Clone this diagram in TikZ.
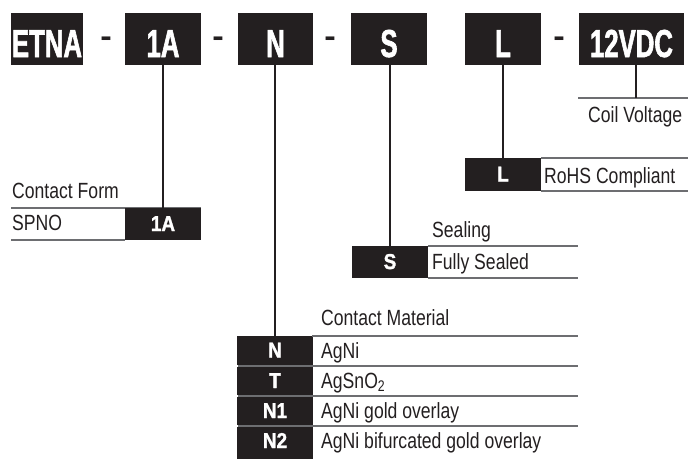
\documentclass[tikz,border=0pt]{standalone}
\usepackage{fontspec}
\setmainfont{Liberation Sans}[FakeStretch=0.80]
\newfontfamily\hdfont{Liberation Sans}[FakeStretch=0.66, BoldFeatures={FakeBold=1.5}]
\newfontfamily\bxfont{Liberation Sans}[FakeStretch=0.88, BoldFeatures={FakeBold=1.5}]
\newfontfamily\dashfont{Liberation Sans}[FakeStretch=1.15]
\definecolor{ink}{HTML}{231F20}
\definecolor{rulec}{HTML}{6D6E71}
\tikzset{
  topbox/.style={fill=ink, text=white, font=\hdfont\bfseries\fontsize{39}{41}\selectfont,
    inner sep=0pt, minimum height=52pt, text height=36pt, text depth=0pt},
  sepdash/.style={text=ink, font=\dashfont\bfseries\fontsize{30}{32}\selectfont, inner sep=0pt, anchor=base},
  codebox/.style={fill=ink, text=white, font=\bxfont\bfseries\fontsize{21.5}{23}\selectfont,
    inner sep=0pt, minimum width=76pt, text height=14pt, text depth=0pt},
  lbl/.style={text=ink, font=\fontsize{22}{24}\selectfont, inner sep=0pt, anchor=base west},
  conn/.style={draw=ink, line width=2pt},
  rowline/.style={draw=rulec, line width=1.3pt},
}
\begin{document}
\begin{tikzpicture}[x=1pt, y=-1pt]
\useasboundingbox (0,0) rectangle (688,459);
% top code
\node[topbox, minimum width=72pt] (etna) at (47,39) {ETNA};
\node[topbox, minimum width=76pt] (t1a) at (163,39) {1A};
\node[topbox, minimum width=75pt] (tn) at (275.5,39) {N};
\node[topbox, minimum width=76pt] (ts) at (389,39) {S};
\node[topbox, minimum width=76pt] (tl) at (503,39) {L};
\node[topbox, minimum width=105pt] (tv) at (631.5,39) {12VDC};
\node[sepdash] (d1) at (106,46) {-};
\node[sepdash] (d2) at (218,46) {-};
\node[sepdash] (d3) at (330,46) {-};
\node[sepdash] (d4) at (559,46) {-};
% coil voltage
\coordinate (cvl) at (578,98);
\coordinate (cvr) at (688,98);
\coordinate (cvj) at (636,98);
\draw[rowline] (cvl) -- (cvr);
\draw[conn] (tv.south -| cvj) -- (cvj);
\node[lbl] (cvt) at (588,122) {Coil Voltage};
% RoHS
\draw[rowline] (541,158) -- (688,158);
\draw[rowline] (541,191) -- (688,191);
\node[codebox, minimum height=33pt] (fl) at (503,174.5) {L};
\node[lbl] (rohs) at (544,183) {RoHS Compliant};
\draw[conn] (tl.south) -- (fl.north);
% contact form
\node[lbl] (cft) at (12,198) {Contact Form};
\draw[rowline] (11,208) -- (201,208);
\draw[rowline] (11,240) -- (125,240);
\node[codebox, minimum height=32pt] (f1a) at (163,224) {1A};
\node[lbl] (spno) at (12,230) {SPNO};
\draw[conn] (t1a.south) -- (f1a.north);
% sealing
\node[lbl] (sealt) at (432,237) {Sealing};
\draw[rowline] (428,246) -- (578,246);
\draw[rowline] (428,278) -- (578,278);
\node[codebox, minimum height=32pt] (fs) at (390,262) {S};
\node[lbl] (fsl) at (432,269) {Fully Sealed};
\draw[conn] (fs.north |- ts.south) -- (fs.north);
% contact material
\node[lbl] (cmt) at (321,325) {Contact Material};
\node[codebox, minimum height=29pt] (mn) at (275,350.5) {N};
\node[codebox, minimum height=28pt] (mt) at (275,381) {T};
\node[codebox, minimum height=28pt] (mn1) at (275,411) {N1};
\node[codebox, minimum height=32pt, text height=10pt] (mn2) at (275,443) {N2};
\draw[rowline] (312,336) -- (578,336);
\draw[rowline] (238,366) -- (578,366);
\draw[rowline] (238,396) -- (578,396);
\draw[rowline] (238,426) -- (578,426);
\node[lbl] (m1) at (321,358) {AgNi};
\node[lbl] (m2) at (321,388) {AgSnO\textsubscript{2}};
\node[lbl] (m3) at (321,418) {AgNi gold overlay};
\node[lbl] (m4) at (321,448) {AgNi bifurcated gold overlay};
\draw[conn] (mn.north |- tn.south) -- (mn.north);
\end{tikzpicture}
\end{document}
